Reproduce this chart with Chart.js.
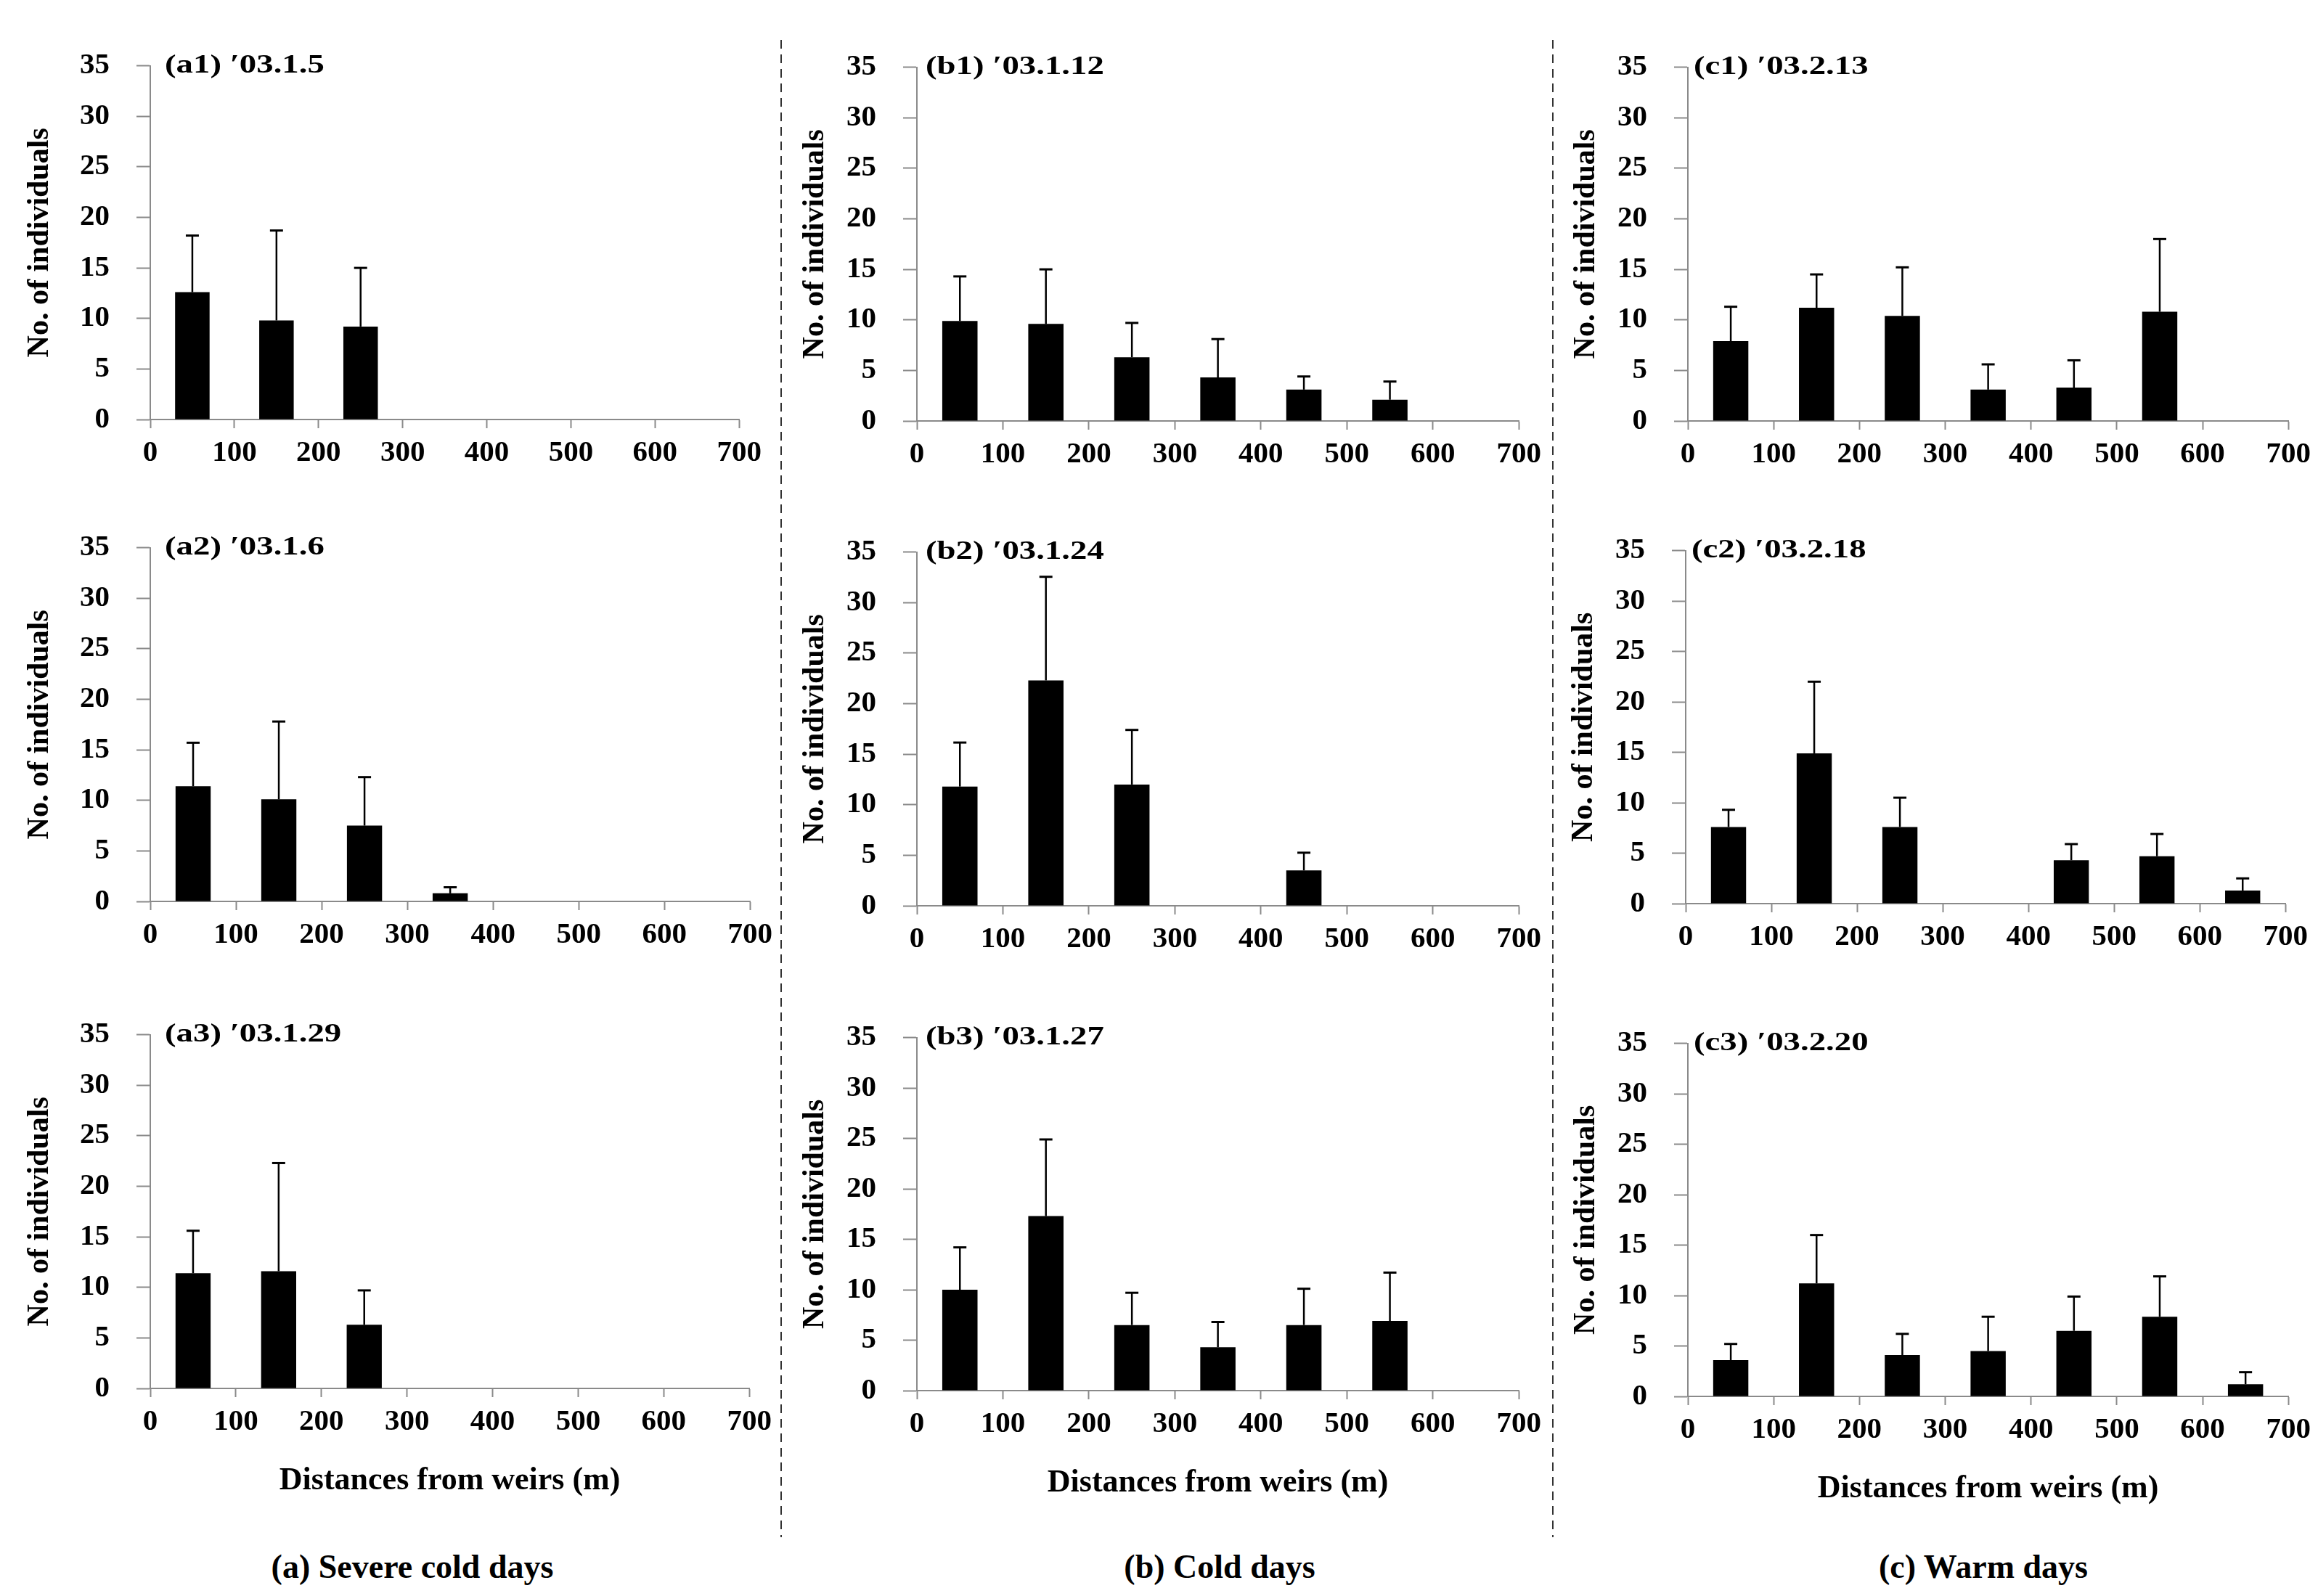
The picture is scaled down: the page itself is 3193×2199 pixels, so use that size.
<!DOCTYPE html>
<html>
<head>
<meta charset="utf-8">
<script src="https://cdn.jsdelivr.net/npm/chart.js@4.4.0/dist/chart.umd.min.js"></script>
<style>
  html, body { margin: 0; padding: 0; background: #fff; overflow: hidden; }
  #page { position: relative; width: 3193px; height: 2199px; background: #fff; font-family: 'Liberation Serif', 'Times New Roman', serif; }
  .panel { position: absolute; }
  .caption { position: absolute; transform: translate(-50%, -50%); font-weight: bold; font-size: 46px; white-space: nowrap; color: #000; }
  #seps { position: absolute; left: 0; top: 0; }
</style>
</head>
<body>
<div id="page">
  <svg id="seps" width="3193" height="2199">
    <line x1="1076" y1="55" x2="1076" y2="2118" stroke="#333" stroke-width="2" stroke-dasharray="12 8"/>
    <line x1="2139" y1="55" x2="2139" y2="2118" stroke="#333" stroke-width="2" stroke-dasharray="12 8"/>
  </svg>
  <div class="caption" style="left:568px;top:2158px">(a) Severe cold days</div>
  <div class="caption" style="left:1680px;top:2158px">(b) Cold days</div>
  <div class="caption" style="left:2732px;top:2158px">(c) Warm days</div>
</div>
<script>
// distance classes (bar centres, m) and axis ticks
const distances = [50, 150, 250, 350, 450, 550, 650];
const xTickValues = [0, 100, 200, 300, 400, 500, 600, 700];
const yTickValues = [0, 5, 10, 15, 20, 25, 30, 35];

const xTitle = 'Distances from weirs (m)';
const yTitle = 'No. of individuals';

// (a) severe cold days
const a1Mean = [12.6, 9.8, 9.2, null, null, null, null];
const a1Sd   = [5.6, 8.9, 5.8, null, null, null, null];
const a2Mean = [11.4, 10.1, 7.5, 0.8, null, null, null];
const a2Sd   = [4.3, 7.7, 4.8, 0.6, null, null, null];
const a3Mean = [11.4, 11.6, 6.3, null, null, null, null];
const a3Sd   = [4.2, 10.7, 3.4, null, null, null, null];

// (b) cold days
const b1Mean = [9.9, 9.6, 6.3, 4.3, 3.1, 2.1, null];
const b1Sd   = [4.4, 5.4, 3.4, 3.8, 1.3, 1.8, null];
const b2Mean = [11.8, 22.3, 12.0, null, 3.5, null, null];
const b2Sd   = [4.35, 10.25, 5.4, null, 1.75, null, null];
const b3Mean = [10.0, 17.3, 6.5, 4.3, 6.5, 6.9, null];
const b3Sd   = [4.2, 7.6, 3.2, 2.5, 3.6, 4.8, null];

// (c) warm days
const c1Mean = [7.9, 11.2, 10.4, 3.1, 3.3, 10.8, null];
const c1Sd   = [3.4, 3.3, 4.8, 2.5, 2.7, 7.2, null];
const c2Mean = [7.6, 14.9, 7.6, null, 4.3, 4.7, 1.3];
const c2Sd   = [1.7, 7.1, 2.9, null, 1.6, 2.2, 1.2];
const c3Mean = [3.6, 11.2, 4.1, 4.5, 6.5, 7.9, 1.2];
const c3Sd   = [1.6, 4.8, 2.1, 3.4, 3.4, 4.0, 1.2];

const panels = [
  { label: '(a1) \u203203.1.5',  mean: a1Mean, sd: a1Sd },
  { label: '(b1) \u203203.1.12', mean: b1Mean, sd: b1Sd },
  { label: '(c1) \u203203.2.13', mean: c1Mean, sd: c1Sd },
  { label: '(a2) \u203203.1.6',  mean: a2Mean, sd: a2Sd },
  { label: '(b2) \u203203.1.24', mean: b2Mean, sd: b2Sd },
  { label: '(c2) \u203203.2.18', mean: c2Mean, sd: c2Sd },
  { label: '(a3) \u203203.1.29', mean: a3Mean, sd: a3Sd },
  { label: '(b3) \u203203.1.27', mean: b3Mean, sd: b3Sd },
  { label: '(c3) \u203203.2.20', mean: c3Mean, sd: c3Sd }
];

// plot-area rectangles on the page (layout only)
const plotRects = [
  { L: 207,  T: 69,   R: 1025, B: 578,  dx: 20, yOff: 152, bottom: false },
  { L: 1263, T: 71,   R: 2099, B: 580,  dx: 12, yOff: 140, bottom: false },
  { L: 2325, T: 71,   R: 3159, B: 580,  dx: 8,  yOff: 140, bottom: false },
  { L: 207,  T: 733,  R: 1040, B: 1242, dx: 20, yOff: 152, bottom: false },
  { L: 1263, T: 739,  R: 2099, B: 1248, dx: 12, yOff: 140, bottom: false },
  { L: 2322, T: 737,  R: 3155, B: 1245, dx: 8,  yOff: 140, bottom: false },
  { L: 207,  T: 1404, R: 1039, B: 1913, dx: 20, yOff: 152, bottom: true },
  { L: 1263, T: 1408, R: 2099, B: 1916, dx: 12, yOff: 140, bottom: true },
  { L: 2325, T: 1416, R: 3159, B: 1924, dx: 8,  yOff: 140, bottom: true }
];

const FONT = "'Liberation Serif', 'Times New Roman', serif";
const AXIS = '#8a8a8a';
const YW = 200, PT = 40, PR = 34;

// upper-only error bars (mean + SD) with a cap
const errorBars = {
  id: 'errorBars',
  afterDatasetsDraw(chart) {
    const ctx = chart.ctx;
    const y = chart.scales.y;
    chart.data.datasets.forEach((ds, di) => {
      const meta = chart.getDatasetMeta(di);
      meta.data.forEach((bar, i) => {
        const p = ds.data[i];
        if (p.sd == null) return;
        const top = y.getPixelForValue(p.y + p.sd);
        ctx.save();
        ctx.strokeStyle = '#000';
        ctx.lineWidth = 2.5;
        ctx.beginPath();
        ctx.moveTo(bar.x, bar.y);
        ctx.lineTo(bar.x, top);
        ctx.stroke();
        ctx.lineWidth = 3;
        ctx.beginPath();
        ctx.moveTo(bar.x - 9, top);
        ctx.lineTo(bar.x + 9, top);
        ctx.stroke();
        ctx.restore();
      });
    });
  }
};

// panel label like "(a1) ′03.1.5" at the top of the y range
const panelLabel = {
  id: 'panelLabel',
  afterDraw(chart, args, opts) {
    if (!opts.text) return;
    const ctx = chart.ctx;
    const x = chart.scales.x.left + opts.dx;
    const y = chart.scales.y.getPixelForValue(yTickValues[yTickValues.length - 1]);
    ctx.save();
    ctx.translate(x, y);
    ctx.scale(1.3, 1);
    ctx.fillStyle = '#000';
    ctx.font = 'bold 36px ' + FONT;
    ctx.textAlign = 'left';
    ctx.textBaseline = 'middle';
    ctx.fillText(opts.text, 0, 0);
    ctx.restore();
  }
};

const page = document.getElementById('page');

panels.forEach((pn, k) => {
  const r = plotRects[k];
  const XH = r.bottom ? 170 : 80;
  const w = YW + (r.R - r.L) + PR;
  const h = PT + (r.B - r.T) + XH;

  const box = document.createElement('div');
  box.className = 'panel';
  box.style.left = (r.L - YW) + 'px';
  box.style.top = (r.T - PT) + 'px';
  box.style.width = w + 'px';
  box.style.height = h + 'px';
  const canvas = document.createElement('canvas');
  canvas.width = w;
  canvas.height = h;
  box.appendChild(canvas);
  page.appendChild(box);

  const points = distances
    .map((d, i) => ({ x: d, y: pn.mean[i], sd: pn.sd[i] }))
    .filter(p => p.y !== null);

  new Chart(canvas.getContext('2d'), {
    type: 'bar',
    data: {
      datasets: [{
        data: points,
        backgroundColor: '#000',
        borderWidth: 0,
        categoryPercentage: 1,
        barPercentage: 0.41
      }]
    },
    options: {
      responsive: false,
      animation: false,
      devicePixelRatio: 1,
      layout: { padding: { top: PT, right: PR, left: 0, bottom: 0 } },
      plugins: {
        legend: { display: false },
        tooltip: { enabled: false },
        panelLabel: { text: pn.label, dx: r.dx }
      },
      scales: {
        x: {
          type: 'linear',
          offset: false,
          min: xTickValues[0],
          max: xTickValues[xTickValues.length - 1],
          afterBuildTicks: s => { s.ticks = xTickValues.map(v => ({ value: v })); },
          afterFit: s => { s.height = XH; },
          grid: { display: true, offset: false, drawOnChartArea: false, drawTicks: true, tickLength: 12, tickWidth: 2, tickColor: AXIS },
          border: { display: true, color: AXIS, width: 2 },
          ticks: { color: '#000', font: { family: FONT, weight: 'bold', size: 41 }, padding: 10, maxRotation: 0, autoSkip: false },
          title: {
            display: r.bottom,
            text: xTitle,
            color: '#000',
            font: { family: FONT, weight: 'bold', size: 44 },
            padding: { top: 0, bottom: 16 }
          }
        },
        y: {
          min: yTickValues[0],
          max: yTickValues[yTickValues.length - 1],
          afterBuildTicks: s => { s.ticks = yTickValues.map(v => ({ value: v })); },
          afterFit: s => { s.width = YW; },
          grid: { display: true, drawOnChartArea: false, drawTicks: true, tickLength: 19, tickWidth: 2, tickColor: AXIS },
          border: { display: true, color: AXIS, width: 2 },
          ticks: { color: '#000', font: { family: FONT, weight: 'bold', size: 41 }, padding: 37 },
          title: {
            display: true,
            text: yTitle,
            color: '#000',
            font: { family: FONT, weight: 'bold', size: 42 },
            padding: { top: YW - r.yOff - 25.2, bottom: 0 }
          }
        }
      }
    },
    plugins: [errorBars, panelLabel]
  });
});
</script>
</body>
</html>
